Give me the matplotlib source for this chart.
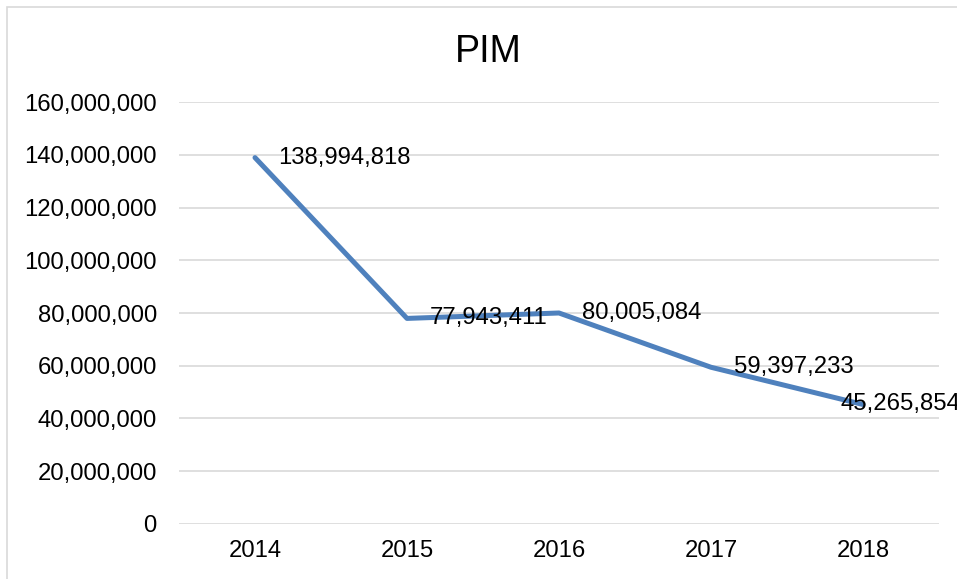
import matplotlib
matplotlib.use("Agg")
import matplotlib.pyplot as plt
from matplotlib.patches import Rectangle
from matplotlib.ticker import FuncFormatter

years = ["2014", "2015", "2016", "2017", "2018"]
pim = [138994818, 77943411, 80005084, 59397233, 45265854]
y_ticks = [0, 20000000, 40000000, 60000000, 80000000, 100000000,
           120000000, 140000000, 160000000]

plt.rcParams['font.family'] = ['Liberation Sans', 'DejaVu Sans']

fig = plt.figure(figsize=(9.57, 5.79), dpi=100)
ax = fig.add_axes([179 / 957, 1 - 523.7 / 579, 760 / 957, (523.7 - 102.3) / 579])

# chart border (cut off at right/bottom in the reference)
fig.patches.append(Rectangle((7.3 / 957, -0.2), 2.0, 1.2 - 6.7 / 579,
                             transform=fig.transFigure, fill=False,
                             edgecolor="#D9D9D9", linewidth=1.2))

x = list(range(len(years)))
ax.plot(x, pim, color="#4F81BD", linewidth=3.6, solid_capstyle="round",
        solid_joinstyle="round", zorder=3)

for i, v in enumerate(pim):
    dx = 16.5 if i < len(pim) - 1 else -16.5
    ax.annotate(f"{v:,}", (i, v), xytext=(dx, 0), textcoords="offset points",
                ha="left", va="center", fontsize=17.2, color="black",
                annotation_clip=False, zorder=4)

ax.set_xlim(-0.5, len(years) - 0.5)
ax.set_ylim(0, 160000000)
ax.set_xticks(x)
ax.set_xticklabels(years)
ax.set_yticks(y_ticks)
ax.yaxis.set_major_formatter(FuncFormatter(lambda v, p: f"{int(v):,}"))
ax.grid(axis="y", color="#D9D9D9", linewidth=1.2)
ax.set_axisbelow(True)
for s in ax.spines.values():
    s.set_visible(False)
ax.tick_params(axis="both", length=0, labelsize=17.2, colors="black")
ax.tick_params(axis="y", pad=16)
ax.tick_params(axis="x", pad=12)

fig.text(488 / 957, 1 - 62 / 579, "PIM", ha="center", va="baseline",
         fontsize=27, color="black")

fig.savefig("out.png", dpi=100)
